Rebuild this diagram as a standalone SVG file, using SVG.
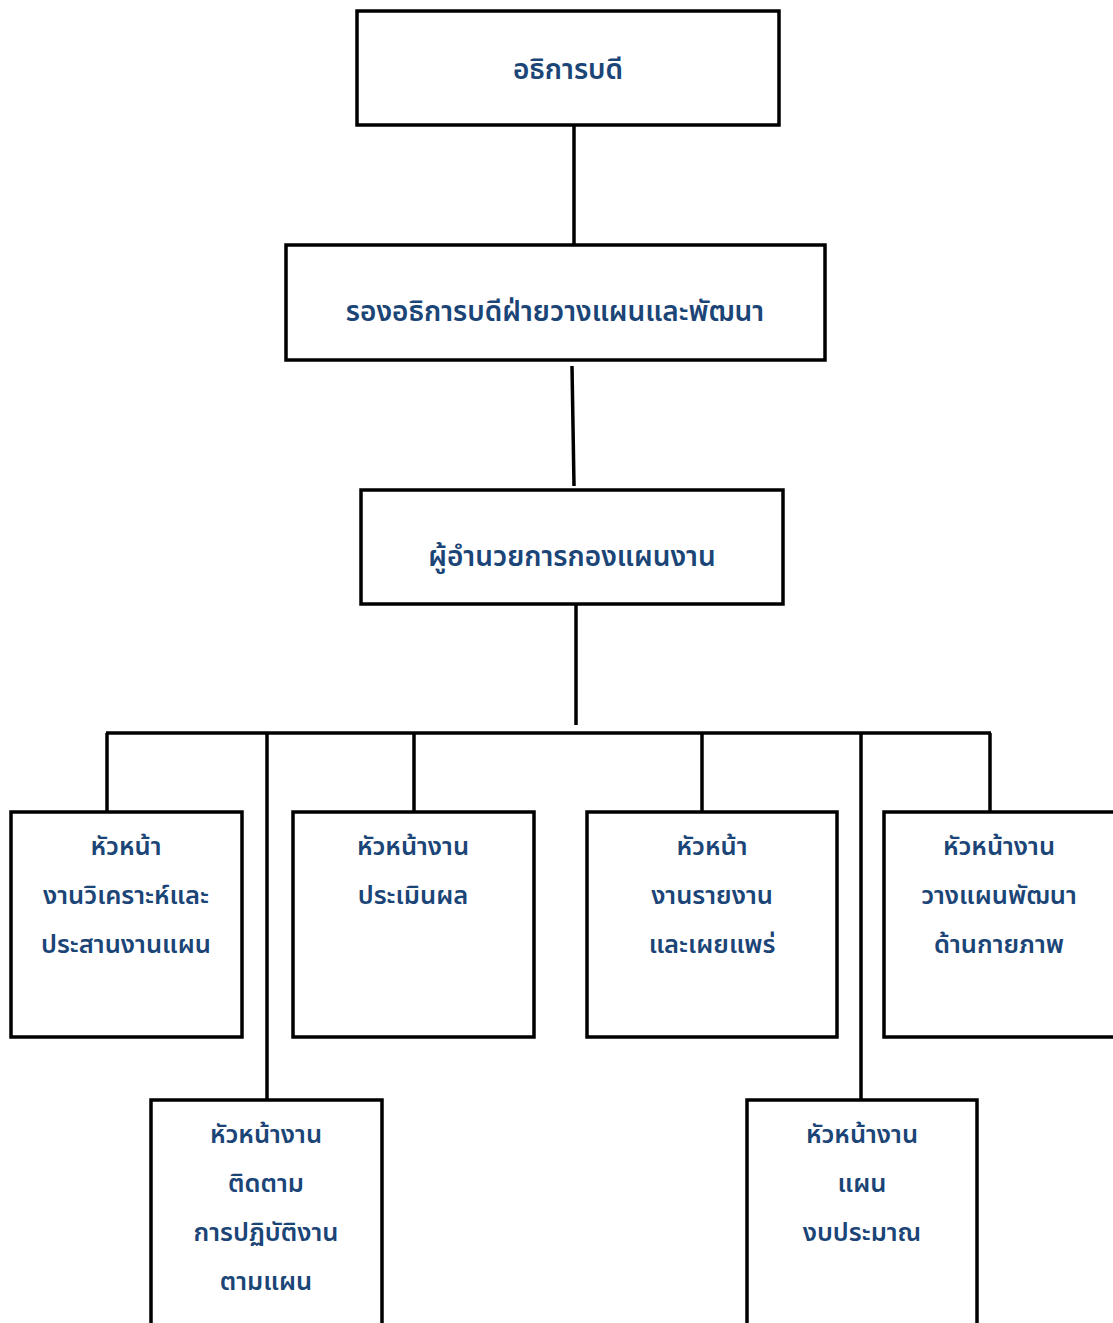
<svg xmlns="http://www.w3.org/2000/svg" width="1113" height="1323" viewBox="0 0 1113 1323">
<style>
.box{fill:#fff;stroke:#000;stroke-width:3.5}
.ln{stroke:#000;stroke-width:3.5;fill:none}
text{font-family:"Noto Sans Thai","Noto Sans","DejaVu Sans","Liberation Sans",sans-serif;font-size:25.5px;font-weight:600;fill:#1b4577;text-anchor:middle}
.big{font-size:28px}
</style>
<rect width="1113" height="1323" fill="#fff"/>
<g id="connectors">
<line class="ln" x1="574" y1="125" x2="574" y2="245"/>
<line class="ln" x1="572" y1="366" x2="574" y2="486"/>
<line class="ln" x1="576" y1="604" x2="576" y2="725"/>
<line class="ln" x1="106" y1="733" x2="991" y2="733"/>
<line class="ln" x1="107" y1="733" x2="107" y2="811"/>
<line class="ln" x1="267" y1="733" x2="267" y2="1099"/>
<line class="ln" x1="414" y1="733" x2="414" y2="811"/>
<line class="ln" x1="702" y1="733" x2="702" y2="811"/>
<line class="ln" x1="861" y1="733" x2="861" y2="1099"/>
<line class="ln" x1="990" y1="733" x2="990" y2="811"/>
</g>
<g id="n1"><rect class="box" x="357" y="11" width="422" height="114"/><text class="big" x="568" y="79">อธิการบดี</text></g>
<g id="n2"><rect class="box" x="286" y="245" width="539" height="115"/><text class="big" x="555" y="321">รองอธิการบดีฝ่ายวางแผนและพัฒนา</text></g>
<g id="n3"><rect class="box" x="361" y="490" width="422" height="114"/><text class="big" x="572" y="566">ผู้อำนวยการกองแผนงาน</text></g>
<g id="n4"><rect class="box" x="11" y="812" width="231" height="225"/>
<text x="126" y="855">หัวหน้า</text><text x="126" y="904">งานวิเคราะห์และ</text><text x="126" y="953">ประสานงานแผน</text></g>
<g id="n5"><rect class="box" x="293" y="812" width="241" height="225"/>
<text x="413" y="855">หัวหน้างาน</text><text x="413" y="904">ประเมินผล</text></g>
<g id="n6"><rect class="box" x="587" y="812" width="250" height="225"/>
<text x="712" y="855">หัวหน้า</text><text x="712" y="904">งานรายงาน</text><text x="712" y="953">และเผยแพร่</text></g>
<g id="n7"><rect class="box" x="884" y="812" width="240" height="225"/>
<text x="999" y="855">หัวหน้างาน</text><text x="999" y="904">วางแผนพัฒนา</text><text x="999" y="953">ด้านกายภาพ</text></g>
<g id="n8"><rect class="box" x="151" y="1100" width="231" height="240"/>
<text x="266" y="1143">หัวหน้างาน</text><text x="266" y="1192">ติดตาม</text><text x="266" y="1241">การปฏิบัติงาน</text><text x="266" y="1290">ตามแผน</text></g>
<g id="n9"><rect class="box" x="747" y="1100" width="230" height="240"/>
<text x="862" y="1143">หัวหน้างาน</text><text x="862" y="1192">แผน</text><text x="862" y="1241">งบประมาณ</text></g>
</svg>
